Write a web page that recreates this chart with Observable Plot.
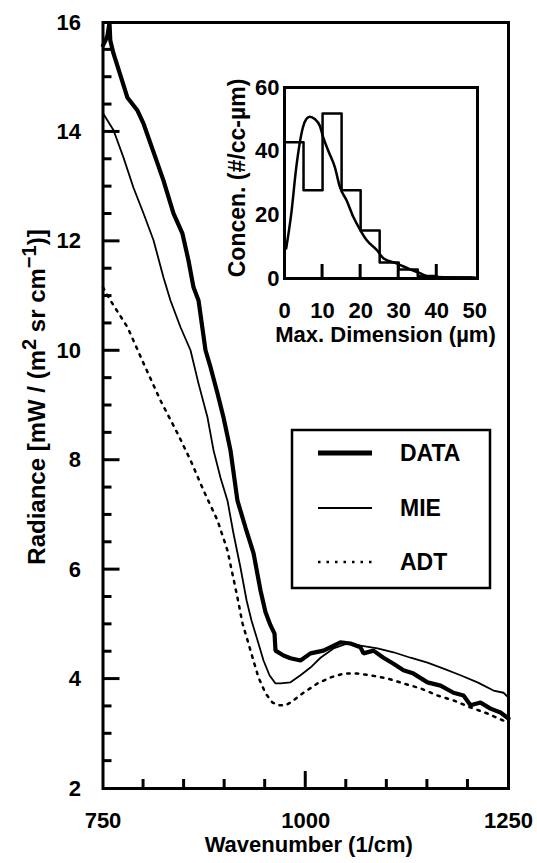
<!DOCTYPE html>
<html><head><meta charset="utf-8">
<script src="https://cdn.jsdelivr.net/npm/d3@7"></script>
<script src="https://cdn.jsdelivr.net/npm/@observablehq/plot@0.6"></script>
<style>
html,body{margin:0;padding:0;background:#fff;overflow:hidden}
#wrap{position:relative;width:537px;height:863px}
#inset{position:absolute;left:225px;top:60px}
</style></head><body><div id="wrap"><div id="main"></div><div id="inset"></div></div>
<script>
// ---- main chart data: wavenumber (1/cm) vs radiance ----
const dataWn  = [750,753,755.5,758,759,763,771.6,780,792.5,800,814.7,824.6,836.9,848,855.4,861.6,867.8,876.4,882.6,891.2,898.6,907.2,915.8,925.7,935.6,944.2,950.4,956.6,961.5,962.7,972.6,981.2,993.5,1005.8,1021.8,1042.8,1055.1,1067.5,1071.2,1083.5,1095.8,1108.2,1120.5,1132.9,1150.1,1166.2,1182.2,1194.5,1203.2,1215.5,1227.8,1240.1,1250];
const dataRad = [15.58,15.67,15.76,16.0,15.67,15.43,15.03,14.63,14.39,14.15,13.53,13.11,12.51,12.14,11.65,11.16,10.92,10.01,9.70,9.22,8.78,8.18,7.26,6.77,6.30,5.62,5.22,4.98,4.83,4.52,4.43,4.38,4.34,4.47,4.52,4.67,4.65,4.58,4.47,4.52,4.39,4.28,4.16,4.10,3.94,3.88,3.75,3.70,3.52,3.57,3.46,3.39,3.28];
const mieWn  = [750,763,775.3,787.6,800,812.3,824.6,833.2,845.6,857.9,867.8,878.9,886.3,894.9,903.5,910.9,919.5,927,933.1,940.5,947.9,955.3,962.7,968.9,981.2,993.5,1005.8,1018.2,1034.2,1051.5,1067.5,1088.5,1108.2,1129.2,1150.1,1169.9,1190.8,1211.8,1231.5,1243.9,1250];
const mieRad = [14.34,14.03,13.53,12.98,12.51,12.02,11.34,10.92,10.43,10.01,9.40,8.78,8.18,7.68,7.26,6.66,6.04,5.44,5.07,4.71,4.34,4.07,3.92,3.92,3.94,4.07,4.21,4.39,4.56,4.65,4.61,4.56,4.49,4.39,4.30,4.19,4.07,3.94,3.79,3.75,3.66];
const adtWn  = [750,759.2,780.2,800,820.9,841.9,857.9,873.9,891.2,903.5,915.8,922,931.9,941.7,950.4,959,966.4,975,981.2,997.2,1014.5,1030.5,1046.5,1063.8,1079.8,1100.8,1120.5,1141.5,1162.4,1182.2,1203.2,1224.1,1243.9,1250];
const adtRad = [11.16,10.92,10.43,9.77,9.09,8.49,8.00,7.45,6.90,6.35,5.49,5.02,4.52,4.03,3.74,3.57,3.52,3.52,3.57,3.75,3.92,4.03,4.10,4.10,4.07,4.01,3.92,3.83,3.70,3.61,3.48,3.37,3.24,3.19];

const xTickLabels = [750, 1000, 1250];
const xMinorTicks = [800, 850, 900, 950, 1050, 1100, 1150, 1200];
const xMajorTicks = [1000];
const yTickLabels = [2, 4, 6, 8, 10, 12, 14, 16];
const yMajorTicks = [4, 6, 8, 10, 12, 14];
const yMinorTicks = [2.5,3,3.5,4.5,5,5.5,6.5,7,7.5,8.5,9,9.5,10.5,11,11.5,12.5,13,13.5,14.5,15,15.5];

// ---- inset data: size distribution ----
const binEdges = [0, 5, 10, 15, 20, 25, 30, 35, 40, 45, 50];
const binConc  = [42.8, 27.7, 51.8, 27.7, 15.1, 5.0, 2.8, 0.8, 0.3, 0.3];
const fitDim  = [0.44,1.77,3.09,3.97,4.85,5.74,6.62,7.94,9.27,10.15,11.47,13.24,14.56,16.33,18.09,19.68,21.62,24.27,26.04,29.57,33.10,35.75,37.51,40.16,49.0];
const fitConc = [9.4,20.3,34.9,42.3,47.5,50.1,50.8,50.1,48.0,44.4,40.2,34.9,28.7,24.5,19.3,15.7,12.0,8.9,6.3,4.7,2.8,1.6,0.7,0.5,0.3];
const insetXTicks = [0, 10, 20, 30, 40, 50];
const insetXInner = [10, 20, 30, 40];
const insetYTicks = [0, 20, 40, 60];

const FONT = "'Liberation Sans', Arial, Helvetica, sans-serif";
const zip = (xs, ys) => xs.map((x, i) => ({x, y: ys[i]}));
const dat = zip(dataWn, dataRad), mie = zip(mieWn, mieRad), adt = zip(adtWn, adtRad);

const MW = 537, MH = 863, ML = 102.5, MR = 29, MT = 22, MB = 75;
const fmt = d3.format("d");

const main = Plot.plot({
  width: MW, height: MH,
  marginLeft: ML, marginRight: MR, marginTop: MT, marginBottom: MB,
  style: {fontFamily: FONT, fontSize: "22px", fontWeight: "bold", background: "white", color: "black", overflow: "visible"},
  x: {domain: [750, 1250]},
  y: {domain: [2, 16]},
  marks: [
    Plot.line(mie, {x: "x", y: "y", stroke: "black", strokeWidth: 1.8}),
    Plot.line(adt, {x: "x", y: "y", stroke: "black", strokeWidth: 2.5, strokeDasharray: "2.5,6"}),
    Plot.line(dat, {x: "x", y: "y", stroke: "black", strokeWidth: 4.2, strokeLinejoin: "miter"}),
    Plot.axisX({ticks: xTickLabels, tickSize: 0, tickPadding: 24, tickFormat: fmt, label: null}),
    Plot.axisY({ticks: yTickLabels, tickSize: 0, tickPadding: 22, tickFormat: fmt, label: null}),
    Plot.frame({stroke: "black", strokeWidth: 3}),
    Plot.text(["Wavenumber (1/cm)"], {frameAnchor: "bottom", dy: 63.5, dx: 3, fontSize: 22, fontWeight: "bold"})
  ]
});
document.getElementById("main").appendChild(main);
const msvg = d3.select(main);

// inward ticks, positioned with the plot's own scales
const sx = main.scale("x"), sy = main.scale("y");
const x0 = sx.apply(750), y0 = sy.apply(2);
const tg = msvg.append("g").attr("stroke", "black").attr("stroke-width", 3).attr("fill", "none");
xMinorTicks.forEach(v => tg.append("line").attr("stroke", "black").attr("x1", sx.apply(v)).attr("x2", sx.apply(v)).attr("y1", y0).attr("y2", y0 - 9));
xMajorTicks.forEach(v => tg.append("line").attr("stroke", "black").attr("x1", sx.apply(v)).attr("x2", sx.apply(v)).attr("y1", y0).attr("y2", y0 - 17));
yMinorTicks.forEach(v => tg.append("line").attr("stroke", "black").attr("y1", sy.apply(v)).attr("y2", sy.apply(v)).attr("x1", x0).attr("x2", x0 + 9));
yMajorTicks.forEach(v => tg.append("line").attr("stroke", "black").attr("y1", sy.apply(v)).attr("y2", sy.apply(v)).attr("x1", x0).attr("x2", x0 + 17));

// rotated y title with superscripts
const yt = msvg.append("text")
  .attr("transform", "translate(45,397) rotate(-90)")
  .attr("text-anchor", "middle")
  .attr("font-family", FONT).attr("font-weight", "bold").attr("font-size", 24).attr("fill", "black");
yt.append("tspan").text("Radiance [mW / (m");
yt.append("tspan").attr("dy", -9).attr("font-size", 20).text("2");
yt.append("tspan").attr("dy", 9).text(" sr cm");
yt.append("tspan").attr("dy", -9).attr("font-size", 20).text("\u22121");
yt.append("tspan").attr("dy", 9).text(")]");

// legend box
const lg = msvg.append("g").attr("font-family", FONT).attr("font-weight", "bold").attr("font-size", 23)
  .attr("text-anchor", "start");
lg.append("rect").attr("x", 292).attr("y", 430).attr("width", 198).attr("height", 158)
  .attr("fill", "white").attr("stroke", "black").attr("stroke-width", 2.5);
const legendItems = [
  {label: "DATA", y: 453, w: 5, dash: null},
  {label: "MIE", y: 508, w: 2, dash: null},
  {label: "ADT", y: 562, w: 2.5, dash: "2.5,6"}
];
legendItems.forEach(d => {
  const l = lg.append("line").attr("x1", 318).attr("x2", 372).attr("y1", d.y).attr("y2", d.y)
    .attr("stroke", "black").attr("stroke-width", d.w);
  if (d.dash) l.attr("stroke-dasharray", d.dash);
  lg.append("text").attr("x", 400).attr("y", d.y + 8).attr("text-anchor", "start").attr("fill", "black").text(d.label);
});

// ---- inset ----
const IW = 290, IH = 300, IL = 59, IR = 38, IT = 27, IB = 82;
const steps = binEdges.map((e, i) => ({x: e, y: i < binConc.length ? binConc[i] : binConc[binConc.length - 1]}));
const fit = zip(fitDim, fitConc);
const inset = Plot.plot({
  width: IW, height: IH,
  marginLeft: IL, marginRight: IR, marginTop: IT, marginBottom: IB,
  style: {fontFamily: FONT, fontSize: "22px", fontWeight: "bold", background: "transparent", color: "black", overflow: "visible"},
  x: {domain: [0, 50.7]},
  y: {domain: [0, 60]},
  marks: [
    Plot.line(steps, {x: "x", y: "y", curve: "step-after", stroke: "black", strokeWidth: 2.5}),
    Plot.line(fit, {x: "x", y: "y", curve: "monotone-x", stroke: "black", strokeWidth: 2.5}),
    Plot.axisX({ticks: insetXTicks, tickSize: 0, tickPadding: 24, tickFormat: fmt, label: null}),
    Plot.axisY({ticks: insetYTicks, tickSize: 0, tickPadding: 5, tickFormat: fmt, label: null}),
    Plot.frame({stroke: "black", strokeWidth: 3}),
    Plot.text(["Max. Dimension (µm)"], {frameAnchor: "bottom", dy: 63.5, dx: 4.5, fontSize: 22, fontWeight: "bold"})
  ]
});
document.getElementById("inset").appendChild(inset);
const isvg = d3.select(inset);
const ix = inset.scale("x"), iy0 = inset.scale("y").apply(0);
const itg = isvg.append("g").attr("stroke", "black").attr("stroke-width", 3).attr("fill", "none");
insetXInner.forEach(v => itg.append("line").attr("stroke", "black").attr("x1", ix.apply(v)).attr("x2", ix.apply(v)).attr("y1", iy0).attr("y2", iy0 - 14));
isvg.append("text")
  .attr("transform", "translate(20,118) rotate(-90)")
  .attr("text-anchor", "middle")
  .attr("font-family", FONT).attr("font-weight", "bold").attr("font-size", 23).attr("fill", "black")
  .text("Concen. (#/cc-µm)");
</script>
</body></html>
